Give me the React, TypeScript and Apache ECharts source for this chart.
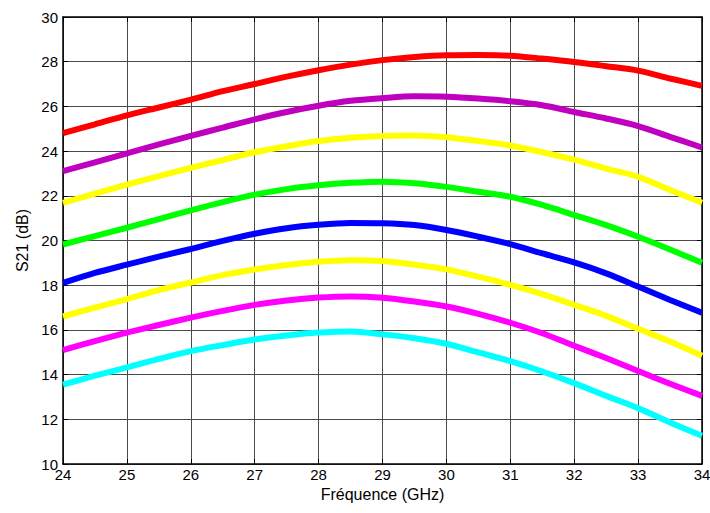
import React, { useEffect, useRef } from "react";
import * as echarts from "echarts";

const freqs = [24, 24.5, 25, 25.5, 26, 26.5, 27, 27.5, 28, 28.5, 29, 29.5, 30, 30.5, 31, 31.5, 32, 32.5, 33, 33.5, 34];
const red = [24.8, 25.2, 25.6, 25.95, 26.3, 26.68, 27.0, 27.33, 27.62, 27.87, 28.07, 28.21, 28.29, 28.3, 28.27, 28.14, 27.99, 27.8, 27.6, 27.25, 26.92];
const purple = [23.1, 23.5, 23.9, 24.3, 24.68, 25.05, 25.42, 25.75, 26.03, 26.25, 26.37, 26.45, 26.43, 26.35, 26.23, 26.05, 25.75, 25.46, 25.12, 24.64, 24.16];
const yellowTop = [21.68, 22.1, 22.5, 22.88, 23.25, 23.6, 23.95, 24.22, 24.45, 24.6, 24.68, 24.7, 24.62, 24.45, 24.25, 23.95, 23.62, 23.22, 22.85, 22.26, 21.69];
const green = [19.82, 20.2, 20.57, 20.96, 21.35, 21.72, 22.05, 22.3, 22.47, 22.58, 22.63, 22.56, 22.4, 22.18, 21.96, 21.59, 21.14, 20.69, 20.17, 19.6, 19.0];
const blue = [18.1, 18.55, 18.92, 19.28, 19.62, 19.98, 20.3, 20.55, 20.7, 20.78, 20.77, 20.69, 20.47, 20.17, 19.84, 19.42, 19.02, 18.53, 17.94, 17.34, 16.77];
const yellowLow = [16.6, 17.0, 17.38, 17.78, 18.12, 18.45, 18.7, 18.9, 19.05, 19.12, 19.08, 18.92, 18.71, 18.38, 18.01, 17.6, 17.12, 16.63, 16.05, 15.48, 14.84];
const magenta = [15.1, 15.5, 15.88, 16.22, 16.55, 16.85, 17.12, 17.32, 17.45, 17.5, 17.44, 17.27, 17.05, 16.72, 16.32, 15.85, 15.29, 14.74, 14.16, 13.59, 13.05];
const cyan = [13.55, 13.95, 14.32, 14.7, 15.05, 15.32, 15.57, 15.75, 15.88, 15.93, 15.8, 15.63, 15.38, 14.99, 14.6, 14.14, 13.62, 13.05, 12.5, 11.86, 11.26];

const seriesList = [
  { name: "s1", data: red, color: "#FF0000" },
  { name: "s2", data: purple, color: "#BF00BF" },
  { name: "s3", data: yellowTop, color: "#FFFF00" },
  { name: "s4", data: green, color: "#00FF00" },
  { name: "s5", data: blue, color: "#0000FF" },
  { name: "s6", data: yellowLow, color: "#FFFF00" },
  { name: "s7", data: magenta, color: "#FF00FF" },
  { name: "s8", data: cyan, color: "#00FFFF" },
];

export default function App() {
  const ref = useRef<HTMLDivElement>(null);
  useEffect(() => {
    if (!ref.current) return;
    document.body.style.margin = "0";
    document.documentElement.style.overflow = "hidden";
    const chart = echarts.init(ref.current, null, { renderer: "svg" });
    const font = "Liberation Sans, Arial, sans-serif";
    const gridLine = { show: true, lineStyle: { color: "#4a4a4a", width: 1 } };
    const boxLine = { show: true, onZero: false, lineStyle: { color: "#000", width: 1.5 } };
    const tick = { show: true, inside: true, length: 5, lineStyle: { color: "#000" } };
    chart.setOption({
      animation: false,
      backgroundColor: "#fff",
      grid: { left: 63, right: 8, top: 17, bottom: 49, containLabel: false, outerBoundsMode: "none" },
      xAxis: [
        {
          type: "value",
          min: 24,
          max: 34,
          interval: 1,
          name: "Fréquence (GHz)",
          nameLocation: "middle",
          nameGap: 22,
          nameTextStyle: { fontFamily: font, fontSize: 16, color: "#000" },
          axisLine: boxLine,
          axisTick: tick,
          axisLabel: { fontFamily: font, fontSize: 15, color: "#000", margin: 3 },
          splitLine: gridLine,
        },
        {
          type: "value",
          position: "top",
          min: 24,
          max: 34,
          interval: 1,
          axisLine: boxLine,
          axisTick: tick,
          axisLabel: { show: false },
          splitLine: { show: false },
        },
      ],
      yAxis: [
        {
          type: "value",
          min: 10,
          max: 30,
          interval: 2,
          name: "S21 (dB)",
          nameLocation: "middle",
          nameGap: 33,
          nameRotate: 90,
          nameTextStyle: { fontFamily: font, fontSize: 16, color: "#000" },
          axisLine: boxLine,
          axisTick: tick,
          axisLabel: { fontFamily: font, fontSize: 15, color: "#000", margin: 5 },
          splitLine: gridLine,
        },
        {
          type: "value",
          position: "right",
          min: 10,
          max: 30,
          interval: 2,
          axisLine: boxLine,
          axisTick: tick,
          axisLabel: { show: false },
          splitLine: { show: false },
        },
      ],
      series: seriesList.map((s) => ({
        name: s.name,
        type: "line",
        xAxisIndex: 0,
        yAxisIndex: 0,
        smooth: 0.3,
        symbol: "none",
        data: freqs.map((f, i) => [f, s.data[i]]),
        lineStyle: { color: s.color, width: 6 },
        itemStyle: { color: s.color },
      })),
    });
    return () => chart.dispose();
  }, []);
  return <div ref={ref} style={{ width: 710, height: 513 }} />;
}
